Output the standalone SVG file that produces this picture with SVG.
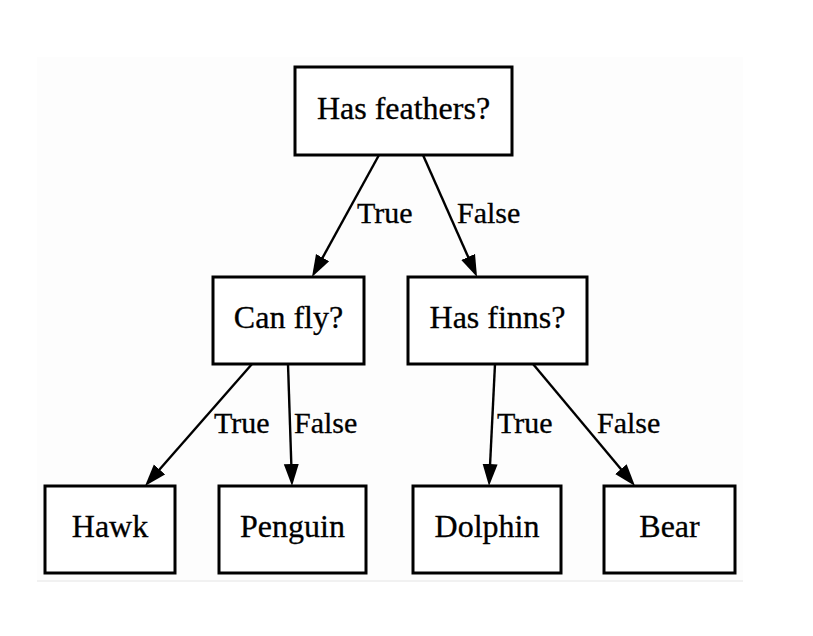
<svg xmlns="http://www.w3.org/2000/svg" width="813" height="636" viewBox="0 0 813 636">
  <style>
    .node rect { fill: #ffffff; stroke: #000000; stroke-width: 3; }
    .node text { font-family: "Liberation Serif", "Times New Roman", serif; font-size: 32px; fill: #000000; stroke: #000000; stroke-width: 0.3; text-anchor: middle; }
    .edge line { stroke: #000000; stroke-width: 2.4; fill: none; }
    .elabel { font-family: "Liberation Serif", "Times New Roman", serif; font-size: 30px; fill: #000000; stroke: #000000; stroke-width: 0.3; }
  </style>
  <defs>
    <marker id="arrow" viewBox="0 -8 22 16" markerWidth="22" markerHeight="16" refX="12" refY="0" markerUnits="userSpaceOnUse" orient="auto">
      <path d="M0,-7.5 L22,0 L0,7.5 Z" fill="#000000"/>
    </marker>
  </defs>
  <rect x="0" y="0" width="813" height="636" fill="#ffffff"/>
  <rect x="37" y="57" width="706" height="523" fill="#fdfdfd"/>
  <line x1="37" y1="581" x2="743" y2="581" stroke="#ececec" stroke-width="1.5"/>

  <g id="connectors" class="edge">
    <line x1="379" y1="155" x2="316.8" y2="268.2" marker-end="url(#arrow)"/>
    <line x1="423" y1="155" x2="473" y2="267.9" marker-end="url(#arrow)"/>
    <line x1="252" y1="364" x2="151.6" y2="478.5" marker-end="url(#arrow)"/>
    <line x1="288" y1="364" x2="291.7" y2="476" marker-end="url(#arrow)"/>
    <line x1="495" y1="364" x2="489.5" y2="476" marker-end="url(#arrow)"/>
    <line x1="533" y1="364" x2="628.6" y2="478.3" marker-end="url(#arrow)"/>
    <text class="elabel" x="357" y="223">True</text>
    <text class="elabel" x="457" y="223">False</text>
    <text class="elabel" x="214" y="433">True</text>
    <text class="elabel" x="294" y="433">False</text>
    <text class="elabel" x="497" y="433">True</text>
    <text class="elabel" x="597" y="433">False</text>
  </g>

  <g id="node-has-feathers" class="node">
    <rect x="295" y="67" width="217" height="88"/>
    <text x="403.5" y="119">Has feathers?</text>
  </g>
  <g id="node-can-fly" class="node">
    <rect x="213" y="277" width="151" height="87"/>
    <text x="288.5" y="328">Can fly?</text>
  </g>
  <g id="node-has-finns" class="node">
    <rect x="408" y="277" width="179" height="87"/>
    <text x="497.5" y="328">Has finns?</text>
  </g>
  <g id="node-hawk" class="node">
    <rect x="45" y="486" width="130" height="87"/>
    <text x="110" y="537">Hawk</text>
  </g>
  <g id="node-penguin" class="node">
    <rect x="219" y="486" width="147" height="87"/>
    <text x="292.5" y="537">Penguin</text>
  </g>
  <g id="node-dolphin" class="node">
    <rect x="413" y="486" width="148" height="87"/>
    <text x="487" y="537">Dolphin</text>
  </g>
  <g id="node-bear" class="node">
    <rect x="604" y="486" width="131" height="87"/>
    <text x="669.5" y="537">Bear</text>
  </g>
</svg>
